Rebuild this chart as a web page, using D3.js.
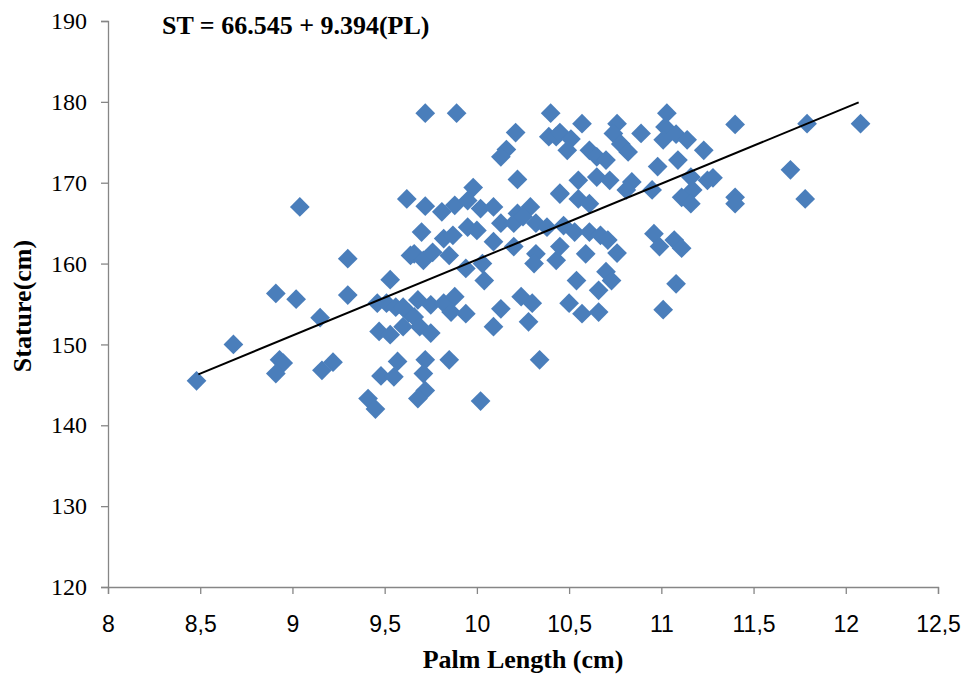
<!DOCTYPE html>
<html>
<head>
<meta charset="utf-8">
<script src="https://cdn.jsdelivr.net/npm/d3@7"></script>
<style>
  body { margin: 0; background: #fff; }
  svg text { font-family: "Liberation Serif", "Times New Roman", serif; }
</style>
</head>
<body>
<div id="chart"></div>
<script>
//Datos
const palmLength = [
  8.48, 8.68, 8.91, 9.02, 9.30, 9.53, 9.30, 9.46, 9.51, 9.56, 9.63, 9.15, 9.47, 9.53, 9.60,
  8.93, 8.95, 8.91, 9.16, 9.22, 9.57, 9.48, 9.55, 9.41, 9.45, 9.04, 9.62, 9.64,
  9.72, 9.89, 10.40, 10.21, 10.39, 10.43, 10.16, 10.13, 10.22, 10.45, 9.98, 9.72, 9.81, 9.88,
  9.95, 10.02, 10.09, 10.22, 10.29,
  9.70, 9.82, 9.87, 9.66, 9.71, 9.76, 9.85, 9.94, 10.03, 10.04, 9.95, 10.00, 10.09, 10.20,
  10.13, 10.20, 10.25, 10.32, 10.38, 10.32, 10.31, 10.43, 9.68, 9.75, 9.82, 9.88, 9.86, 9.94,
  9.66, 9.60, 9.69, 9.75, 10.13, 10.24, 10.30, 10.28, 10.09,
  9.85, 10.34, 9.72, 9.71, 9.72, 9.68, 10.02,
  10.57, 10.45, 10.51, 10.49, 10.76, 10.74, 10.78, 10.89, 10.82, 11.03, 11.02, 11.01, 11.08,
  11.14, 11.23, 10.61, 10.65, 10.70, 11.09, 10.98, 10.55, 10.65, 10.72, 10.84, 10.45, 10.55,
  10.61, 10.81, 10.95, 11.16, 11.17, 11.11, 11.16, 11.25,
  11.40, 11.79, 12.08, 11.28, 11.70, 11.40, 11.40, 11.78,
  10.45, 10.59, 10.53, 10.47, 10.61, 10.67, 10.71, 10.76, 10.54, 10.66, 10.70, 10.73, 10.50,
  10.57, 10.66, 10.96, 10.99, 11.07, 11.11, 11.08, 11.01
];
const stature = [
  145.5, 150.0, 156.3, 155.6, 160.6, 158.0, 156.1, 155.1, 155.1, 154.6, 153.9, 153.3, 151.6, 151.2, 152.2,
  148.1, 147.7, 146.4, 146.8, 147.8, 147.9, 146.1, 146.0, 143.3, 142.0, 167.0, 168.0, 161.0,
  178.6, 178.6, 178.6, 176.2, 175.7, 175.7, 174.1, 173.2, 170.4, 168.6, 169.4, 167.1, 166.4, 167.2,
  167.8, 166.8, 167.0, 166.2, 167.0,
  163.9, 163.1, 163.5, 161.2, 160.4, 161.4, 161.0, 159.4, 160.0, 157.9, 164.5, 164.1, 162.7, 162.1,
  165.0, 165.0, 165.8, 165.0, 164.5, 161.2, 160.0, 160.4, 155.5, 154.9, 155.1, 155.9, 154.0, 153.8,
  153.4, 154.6, 152.2, 151.4, 154.4, 155.9, 155.1, 152.8, 152.2,
  148.1, 148.1, 148.1, 146.4, 144.3, 143.3, 143.0,
  177.3, 176.2, 175.4, 174.0, 177.3, 176.1, 174.8, 176.1, 173.8, 178.6, 176.9, 175.3, 176.0,
  175.3, 174.0, 174.0, 173.2, 172.8, 172.8, 172.0, 170.3, 170.7, 170.3, 170.1, 168.7, 168.0,
  167.4, 169.1, 169.1, 170.7, 169.1, 168.2, 167.4, 170.3,
  177.2, 177.3, 177.3, 170.6, 171.6, 168.2, 167.4, 168.0,
  162.1, 161.2, 163.9, 164.7, 163.9, 163.5, 162.9, 161.3, 157.9, 156.7, 159.0, 157.9, 155.1,
  153.8, 154.0, 163.7, 162.1, 162.9, 161.9, 157.5, 154.3
];
const xTicks = [8, 8.5, 9, 9.5, 10, 10.5, 11, 11.5, 12, 12.5];
const yTicks = [120, 130, 140, 150, 160, 170, 180, 190];
const fitIntercept = 66.545, fitSlope = 9.394;
const fitRange = [8.49, 12.07];

const COLOR_POINT = '#4a7ebb', COLOR_AXIS = '#868686';

const width = 968, height = 681;
const svg = d3.select('#chart').append('svg')
    .attr('width', width)
    .attr('height', height);

//Escalas
let x = d3.scaleLinear().domain([8, 12.5]).range([108, 938]);
let y = d3.scaleLinear().domain([120, 190]).range([587, 21]);

//Ejes
let xAxis = d3.axisBottom(x).tickValues(xTicks).tickSize(7).tickPadding(22)
    .tickFormat(d => String(d).replace('.', ','));
let yAxis = d3.axisLeft(y).tickValues(yTicks).tickSize(7).tickPadding(14);

let gx = svg.append('g').attr('transform', 'translate(0,587)').call(xAxis);
let gy = svg.append('g').attr('transform', 'translate(108,0)').call(yAxis);

[gx, gy].forEach(g => {
    g.select('.domain').attr('stroke', COLOR_AXIS).attr('stroke-width', 1.3);
    g.selectAll('.tick line').attr('stroke', COLOR_AXIS).attr('stroke-width', 1.3);
    g.selectAll('.tick text').attr('fill', '#000');
});
gy.selectAll('.tick text')
    .style('font-family', '"Liberation Serif", serif')
    .style('font-size', '24px');
gx.selectAll('.tick text')
    .style('font-family', '"Liberation Sans", Arial, sans-serif')
    .style('font-size', '23px');

//Puntos
const diamond = d3.symbol().type(d3.symbolSquare).size(195);
svg.append('g').selectAll('path')
    .data(palmLength.map((v, i) => [v, stature[i]]))
    .enter()
    .append('path')
    .attr('d', diamond)
    .attr('fill', COLOR_POINT)
    .attr('transform', d => 'translate(' + x(d[0]) + ',' + y(d[1]) + ') rotate(45)');

//Recta de regresión
svg.append('line')
    .attr('x1', x(fitRange[0]))
    .attr('y1', y(fitIntercept + fitSlope * fitRange[0]))
    .attr('x2', x(fitRange[1]))
    .attr('y2', y(fitIntercept + fitSlope * fitRange[1]))
    .attr('stroke', '#000')
    .attr('stroke-width', 2);

//Textos
svg.append('text')
    .attr('x', 162).attr('y', 34)
    .style('font-size', '26px').style('font-weight', 'bold')
    .text('ST = 66.545 + 9.394(PL)');

svg.append('text')
    .attr('x', 523).attr('y', 668)
    .attr('text-anchor', 'middle')
    .style('font-size', '26px').style('font-weight', 'bold')
    .text('Palm Length (cm)');

svg.append('text')
    .attr('transform', 'translate(31,306) rotate(-90)')
    .attr('text-anchor', 'middle')
    .style('font-size', '26px').style('font-weight', 'bold')
    .text('Stature(cm)');
</script>
</body>
</html>
